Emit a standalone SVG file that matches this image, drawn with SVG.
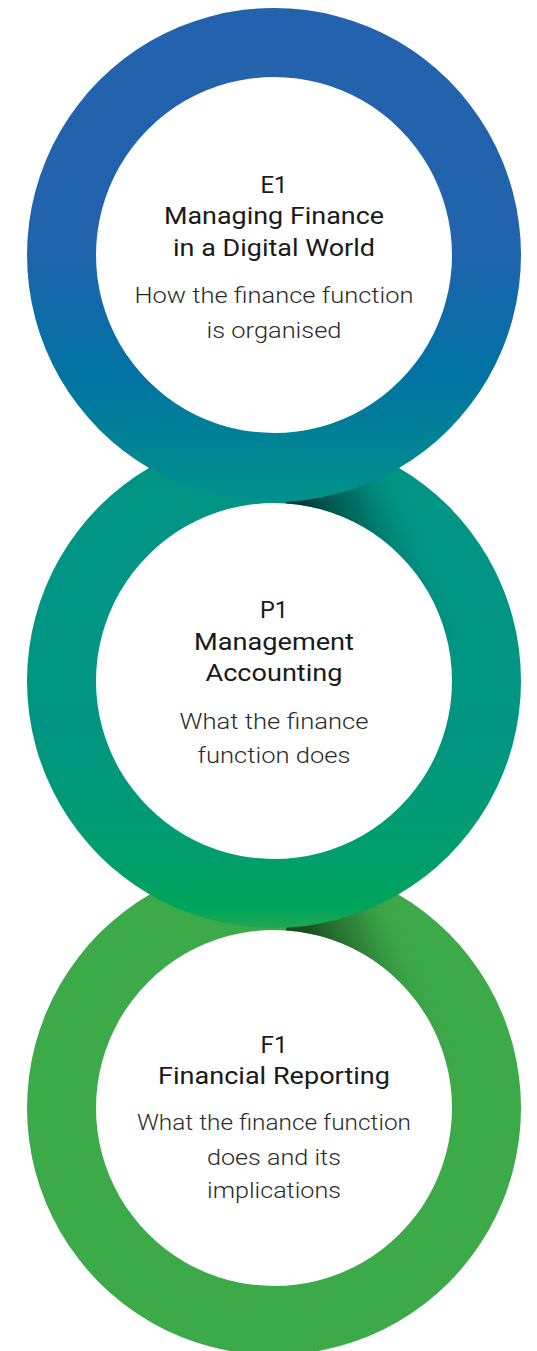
<svg xmlns="http://www.w3.org/2000/svg" width="537" height="1351" viewBox="0 0 537 1351">
<style>
.title{font-family:Roboto,"Liberation Sans",sans-serif;font-size:24.5px;font-weight:400;fill:#1a1a1a;text-anchor:middle}
.sub{font-family:Roboto,"Liberation Sans",sans-serif;font-size:22.5px;font-weight:300;fill:#2a2a2a;text-anchor:middle}
</style>
<defs>
<linearGradient id="g1" gradientUnits="userSpaceOnUse" x1="0" y1="8" x2="0" y2="502">
<stop offset="0" stop-color="#2462AE"/>
<stop offset="0.48" stop-color="#2163AD"/>
<stop offset="0.74" stop-color="#0072A3"/>
<stop offset="1" stop-color="#00928A"/>
</linearGradient>
<linearGradient id="g2" gradientUnits="userSpaceOnUse" x1="0" y1="434" x2="0" y2="928">
<stop offset="0" stop-color="#009485"/>
<stop offset="0.6" stop-color="#009583"/>
<stop offset="0.85" stop-color="#009E6E"/>
<stop offset="0.96" stop-color="#00A45A"/>
<stop offset="1" stop-color="#22A752"/>
</linearGradient>
<linearGradient id="sh2" gradientUnits="userSpaceOnUse" x1="315" y1="525" x2="405" y2="488">
<stop offset="0" stop-color="#003A38" stop-opacity="0.95"/>
<stop offset="0.5" stop-color="#00564F" stop-opacity="0.55"/>
<stop offset="1" stop-color="#009485" stop-opacity="0"/>
</linearGradient>
<linearGradient id="sh3" gradientUnits="userSpaceOnUse" x1="315" y1="951" x2="405" y2="914">
<stop offset="0" stop-color="#174A1C" stop-opacity="0.95"/>
<stop offset="0.5" stop-color="#256A2E" stop-opacity="0.55"/>
<stop offset="1" stop-color="#3DAA4A" stop-opacity="0"/>
</linearGradient>
<clipPath id="c2"><rect x="286" y="440" width="251" height="200"/></clipPath>
<clipPath id="c3"><rect x="286" y="866" width="251" height="200"/></clipPath>
</defs>

<g id="ring-f1">
<path d="M274,861 a247,247 0 1,0 0.01,0 Z M274,930 a178,178 0 1,1 -0.01,0 Z" fill="#3DAA4A" fill-rule="evenodd"/>
<path d="M274,861 a247,247 0 1,0 0.01,0 Z M274,930 a178,178 0 1,1 -0.01,0 Z" fill="url(#sh3)" fill-rule="evenodd" clip-path="url(#c3)"/>
<text class="title" x="274" y="1053" textLength="27" lengthAdjust="spacingAndGlyphs">F1</text>
<text class="title" x="274" y="1084" textLength="232" lengthAdjust="spacingAndGlyphs">Financial Reporting</text>
<text class="sub" x="274" y="1130" textLength="274" lengthAdjust="spacingAndGlyphs">What the finance function</text>
<text class="sub" x="274" y="1165" textLength="134" lengthAdjust="spacingAndGlyphs">does and its</text>
<text class="sub" x="274" y="1198" textLength="134" lengthAdjust="spacingAndGlyphs">implications</text>
</g>

<g id="ring-p1">
<path d="M274,434 a247,247 0 1,0 0.01,0 Z M274,503 a178,178 0 1,1 -0.01,0 Z" fill="url(#g2)" fill-rule="evenodd"/>
<path d="M274,434 a247,247 0 1,0 0.01,0 Z M274,503 a178,178 0 1,1 -0.01,0 Z" fill="url(#sh2)" fill-rule="evenodd" clip-path="url(#c2)"/>
<text class="title" x="274" y="618" textLength="28" lengthAdjust="spacingAndGlyphs">P1</text>
<text class="title" x="274" y="650" textLength="160" lengthAdjust="spacingAndGlyphs">Management</text>
<text class="title" x="274" y="681" textLength="137" lengthAdjust="spacingAndGlyphs">Accounting</text>
<text class="sub" x="274" y="729" textLength="189" lengthAdjust="spacingAndGlyphs">What the finance</text>
<text class="sub" x="274" y="763" textLength="153" lengthAdjust="spacingAndGlyphs">function does</text>
</g>

<g id="ring-e1">
<path d="M274,8 a247,247 0 1,0 0.01,0 Z M274,77 a178,178 0 1,1 -0.01,0 Z" fill="url(#g1)" fill-rule="evenodd"/>
<text class="title" x="274" y="193" textLength="27" lengthAdjust="spacingAndGlyphs">E1</text>
<text class="title" x="274" y="224" textLength="220" lengthAdjust="spacingAndGlyphs">Managing Finance</text>
<text class="title" x="274" y="256" textLength="202" lengthAdjust="spacingAndGlyphs">in a Digital World</text>
<text class="sub" x="274" y="303" textLength="279" lengthAdjust="spacingAndGlyphs">How the finance function</text>
<text class="sub" x="274" y="338" textLength="135" lengthAdjust="spacingAndGlyphs">is organised</text>
</g>

<g id="connectors"></g>
</svg>
